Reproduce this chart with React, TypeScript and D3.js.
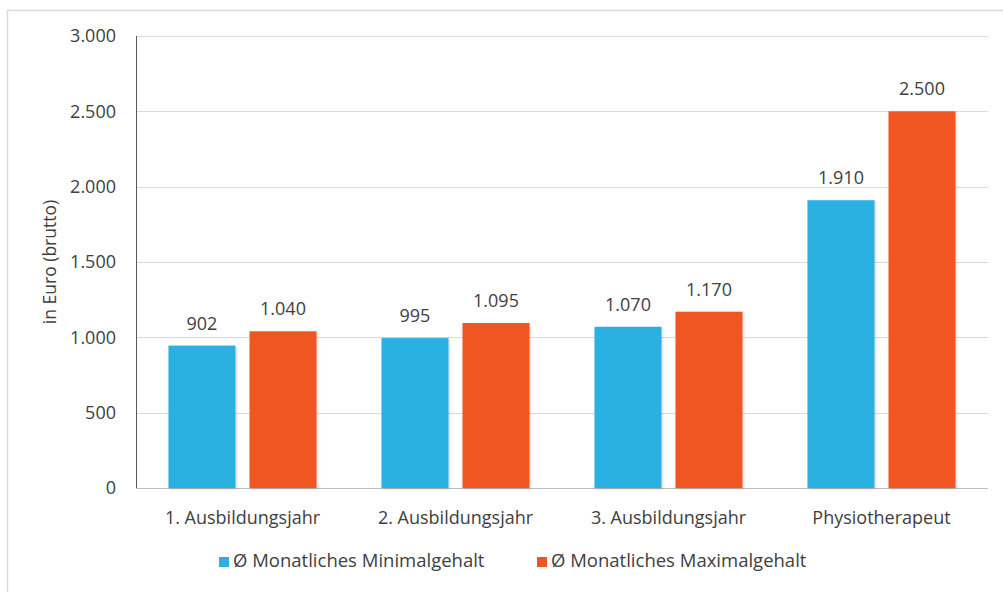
import React from "react";
import * as d3 from "d3";

const categories = ["1. Ausbildungsjahr", "2. Ausbildungsjahr", "3. Ausbildungsjahr", "Physiotherapeut"];
const seriesNames = ["Ø Monatliches Minimalgehalt", "Ø Monatliches Maximalgehalt"];
const minValues = [945, 995, 1070, 1910];
const maxValues = [1040, 1095, 1170, 2500];
const minLabels = ["902", "995", "1.070", "1.910"];
const maxLabels = ["1.040", "1.095", "1.170", "2.500"];
const yTicks = [0, 500, 1000, 1500, 2000, 2500, 3000];
const yTickLabels = ["0", "500", "1.000", "1.500", "2.000", "2.500", "3.000"];
const colors = ["#2BB0E1", "#EF5722"];

const W = 1003;
const H = 592;
const left = 136;
const right = 988;
const top = 36;
const bottom = 488;
const FONT = "'Open Sans', sans-serif";
const TEXT = "#404040";

export default function App() {
  const y = d3.scaleLinear().domain([0, 3000]).range([bottom, top]);
  const x0 = d3
    .scaleBand<string>()
    .domain(categories)
    .range([left, right])
    .paddingInner(0.305)
    .paddingOuter(0.1525);
  const x1 = d3
    .scaleBand<string>()
    .domain(seriesNames)
    .range([0, x0.bandwidth()])
    .paddingInner(0.173)
    .paddingOuter(0);

  const series = [
    { name: seriesNames[0], values: minValues, labels: minLabels, color: colors[0] },
    { name: seriesNames[1], values: maxValues, labels: maxLabels, color: colors[1] },
  ];

  const legendItems = [
    { name: seriesNames[0], color: colors[0], x: 219 },
    { name: seriesNames[1], color: colors[1], x: 537 },
  ];

  return (
    <svg
      width={W}
      height={H}
      style={{ position: "absolute", left: 0, top: 0, background: "#fff" }}
      fontFamily={FONT}
    >
      <defs>
        <filter id="shadow" x="-20%" y="-20%" width="140%" height="140%">
          <feDropShadow dx="1" dy="1" stdDeviation="1.5" floodColor="#000" floodOpacity="0.18" />
        </filter>
      </defs>
      <rect x={7.5} y={10.5} width={1000} height={590} fill="#fff" stroke="#d9d9d9" strokeWidth={1.5} />

      {yTicks.map((t) => (
        <line
          key={"g" + t}
          x1={left}
          x2={right}
          y1={Math.round(y(t)) + 0.5}
          y2={Math.round(y(t)) + 0.5}
          stroke={t === 0 ? "#bfbfbf" : "#d9d9d9"}
          strokeWidth={1}
        />
      ))}
      <line x1={left + 0.5} x2={left + 0.5} y1={top} y2={bottom} stroke="#595959" strokeWidth={1} />

      {yTicks.map((t, i) => (
        <text
          key={"yt" + t}
          x={116}
          y={y(t)}
          dy="0.35em"
          textAnchor="end"
          fontSize={18}
          fill={TEXT}
        >
          {yTickLabels[i]}
        </text>
      ))}

      <text
        transform={`translate(56, 262) rotate(-90)`}
        textAnchor="middle"
        fontSize={17.5}
        fill={TEXT}
      >
        in Euro (brutto)
      </text>

      {series.map((s) =>
        categories.map((c, i) => {
          const bx = (x0(c) ?? 0) + (x1(s.name) ?? 0);
          const bw = x1.bandwidth();
          const by = y(s.values[i]);
          return (
            <g key={s.name + c}>
              <rect
                x={bx}
                y={by}
                width={bw}
                height={bottom - by}
                fill={s.color}
                filter="url(#shadow)"
              />
              <text
                x={bx + bw / 2}
                y={by - 16}
                textAnchor="middle"
                fontSize={18}
                fill={TEXT}
              >
                {s.labels[i]}
              </text>
            </g>
          );
        })
      )}

      {categories.map((c) => (
        <text
          key={"c" + c}
          x={(x0(c) ?? 0) + x0.bandwidth() / 2}
          y={524}
          textAnchor="middle"
          fontSize={18}
          fill={TEXT}
        >
          {c}
        </text>
      ))}

      {legendItems.map((l) => (
        <g key={l.name} transform={`translate(${l.x}, 0)`}>
          <rect x={0} y={557} width={10} height={10} fill={l.color} />
          <text x={14} y={567} fontSize={18.5} fill={TEXT}>
            {l.name}
          </text>
        </g>
      ))}
    </svg>
  );
}
